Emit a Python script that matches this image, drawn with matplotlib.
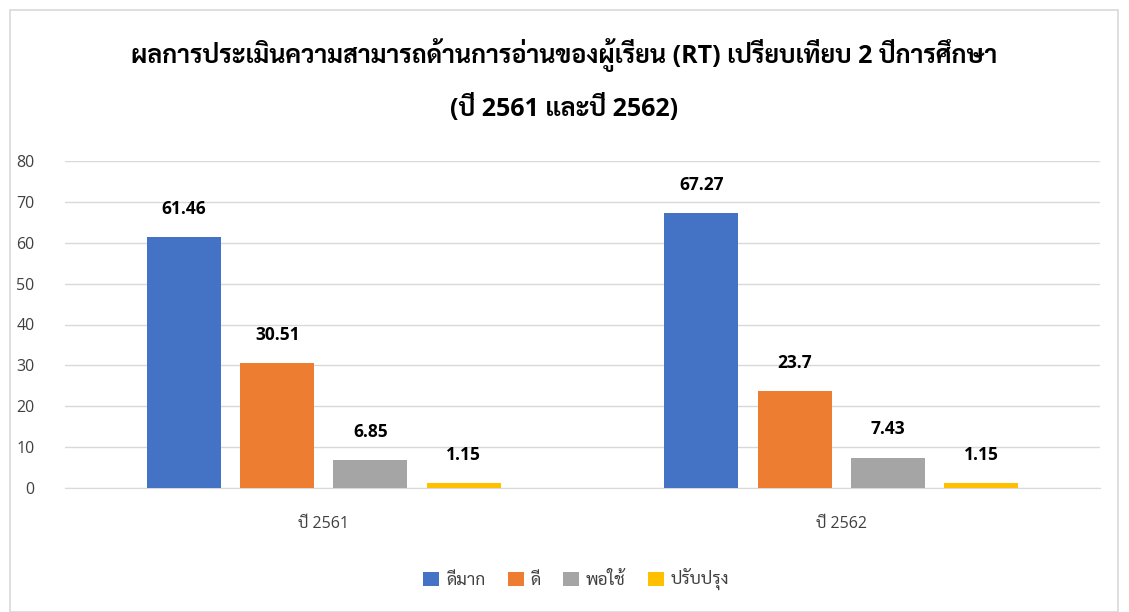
import matplotlib
matplotlib.use('Agg')
import matplotlib.pyplot as plt
from matplotlib import font_manager
from matplotlib.patches import Rectangle
import numpy as np
import glob

# data
years = ['ปี 2561', 'ปี 2562']
levels = ['ดีมาก', 'ดี', 'พอใช้', 'ปรับปรุง']
values = {
    'ดีมาก': [61.46, 67.27],
    'ดี': [30.51, 23.7],
    'พอใช้': [6.85, 7.43],
    'ปรับปรุง': [1.15, 1.15],
}
colors = ['#4472C4', '#ED7D31', '#A5A5A5', '#FFC000']
title = 'ผลการประเมินความสามารถด้านการอ่านของผู้เรียน (RT) เปรียบเทียบ 2 ปีการศึกษา\n(ปี 2561 และปี 2562)'

for p in glob.glob('/usr/share/fonts/truetype/google-fonts/Sarabun-*.ttf'):
    font_manager.fontManager.addfont(p)
plt.rcParams['font.family'] = ['Open Sans', 'Sarabun', 'DejaVu Sans']

fig = plt.figure(figsize=(11.29, 6.12), dpi=100)
fig.patches.append(Rectangle((10 / 1129, 0), 1108 / 1129, 602 / 612, transform=fig.transFigure,
                             fill=False, edgecolor='#D9D9D9', linewidth=1.2))
ax = fig.add_axes([65 / 1129, (612 - 488) / 612, 1035 / 1129, 327 / 612])

x = np.arange(len(years))
width = 0.143
offsets = [-0.2705, -0.0899, 0.0899, 0.2705]
handles = []
for lvl, off, c in zip(levels, offsets, colors):
    bars = ax.bar(x + off, values[lvl], width, color=c, label=lvl, zorder=3)
    handles.append(bars)
    for b, v in zip(bars, values[lvl]):
        ax.text(b.get_x() + b.get_width() / 2, v + 4.7, f'{v:g}', ha='center', va='bottom',
                fontsize=12.5, fontweight='bold', color='#000000')

ax.set_xlim(-0.5, 1.5)
ax.set_ylim(0, 80)
ax.set_yticks(range(0, 81, 10))
ax.set_xticks(x)
ax.set_xticklabels(years)
ax.grid(axis='y', color='#D9D9D9', linewidth=1)
ax.set_axisbelow(True)
for s in ['top', 'right', 'left']:
    ax.spines[s].set_visible(False)
ax.spines['bottom'].set_color('#D9D9D9')
ax.tick_params(axis='both', length=0, labelsize=11.5, labelcolor='#404040')
ax.tick_params(axis='x', pad=20)
ax.tick_params(axis='y', pad=22)

fig.text(0.5, 1 - 80 / 612, title, ha='center', va='center', fontsize=18, fontweight='bold',
         linespacing=2.0, color='#000000')

fig.legend(handles=handles, labels=levels, loc='center', bbox_to_anchor=(0.5105, 1 - 580 / 612),
           ncol=4, frameon=False, fontsize=12.5, handlelength=0.9, handleheight=0.9, handletextpad=0.4,
           columnspacing=1.3, labelcolor='#404040')

fig.savefig('out.png', dpi=100)
